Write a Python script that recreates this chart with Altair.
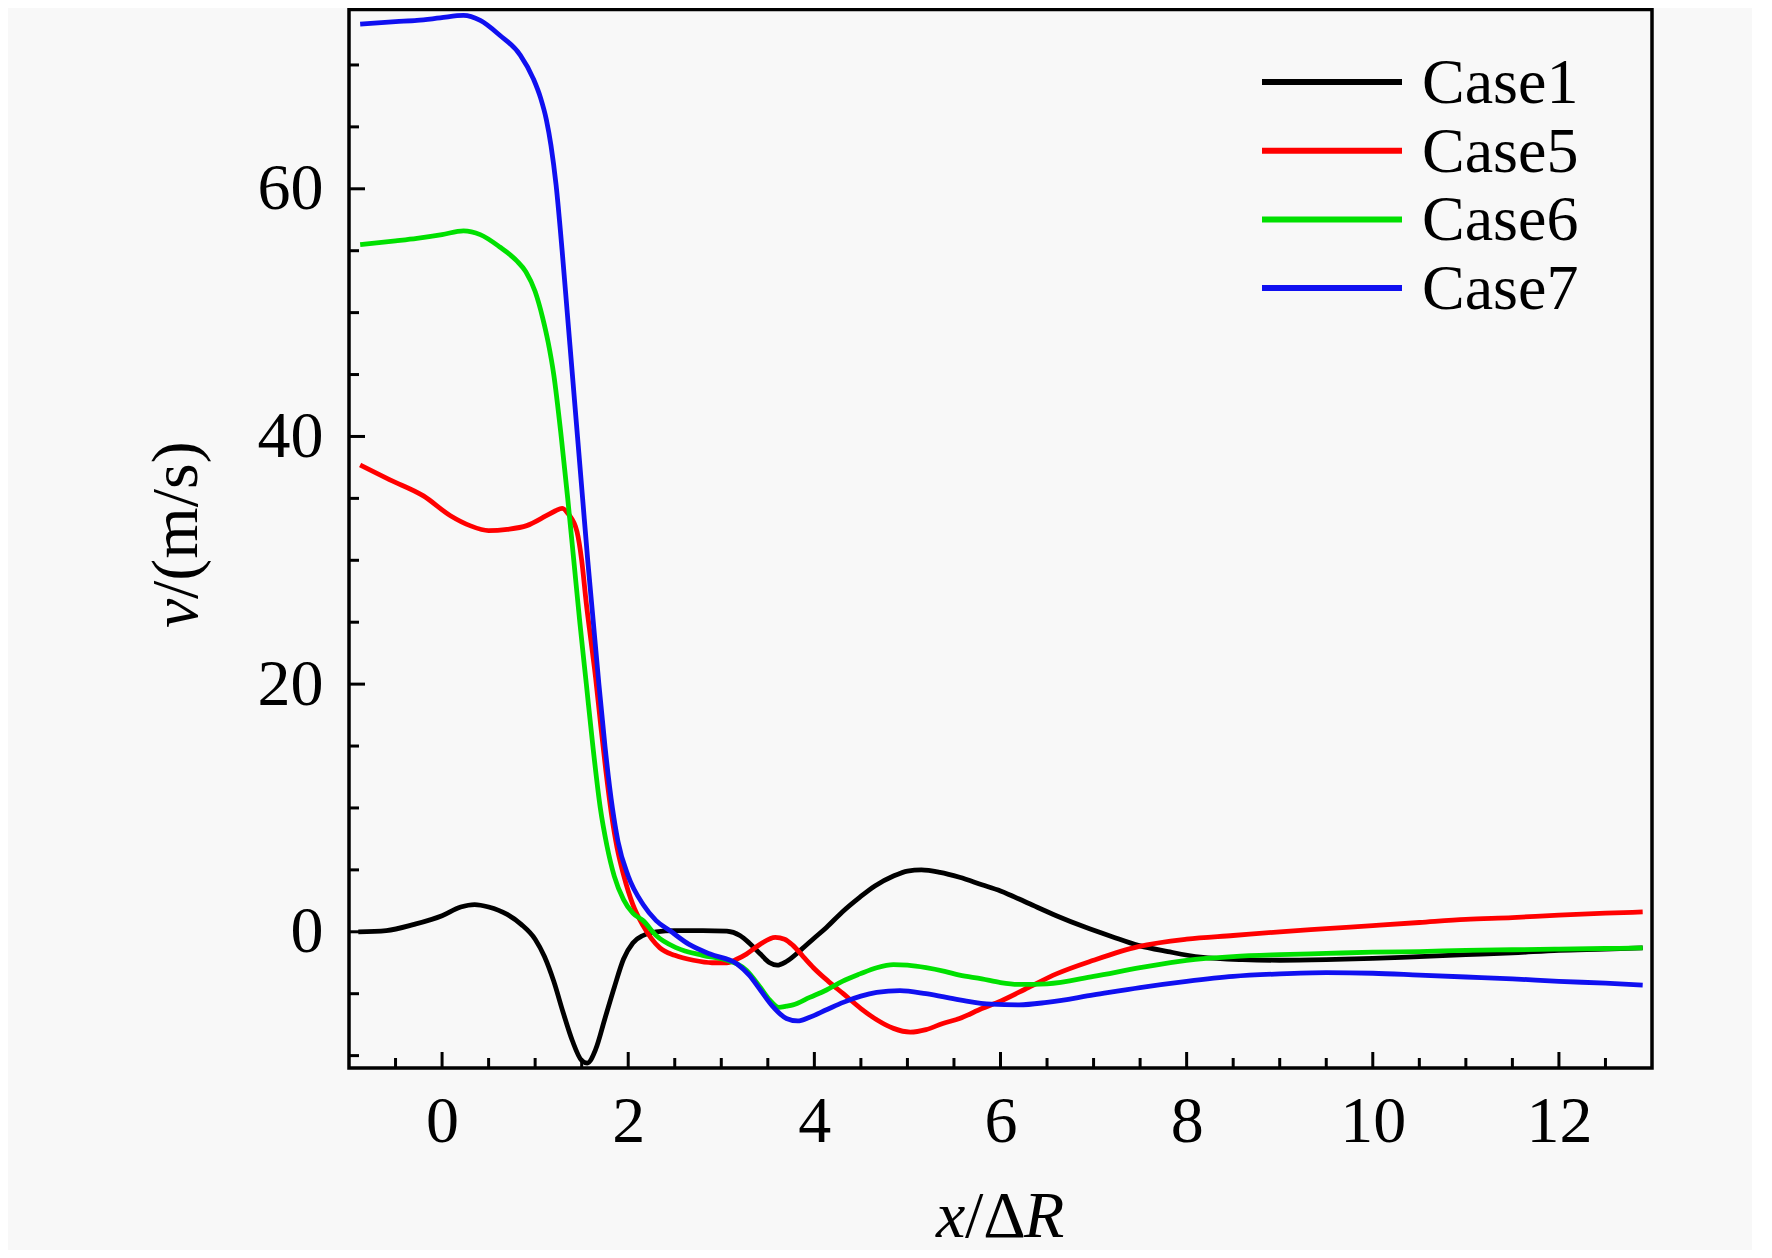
import altair as alt
import pandas as pd

cases = ["Case1", "Case5", "Case6", "Case7"]
colors = ["#000000", "#ff0000", "#00e000", "#1010f0"]

case1_x = [-0.9, -0.6, -0.3, 0.0, 0.2, 0.35, 0.5, 0.7, 0.85, 1.0, 1.1, 1.2, 1.3, 1.4, 1.5, 1.56,
           1.65, 1.75, 1.85, 1.95, 2.05, 2.16, 2.3, 2.5, 2.8, 3.06, 3.2, 3.3, 3.42, 3.52, 3.6, 3.7,
           3.85, 4.0, 4.13, 4.3, 4.49, 4.65, 4.85, 5.0, 5.15, 5.35, 5.56, 5.8, 6.0, 6.3, 6.6, 6.9,
           7.2, 7.48, 7.8, 8.15, 8.6, 9.0, 9.5, 10.0, 10.5, 11.0, 11.5, 12.0, 12.5, 12.9]
case1_y = [0.0, 0.1, 0.6, 1.3, 2.0, 2.2, 2.0, 1.4, 0.6, -0.6, -2.0, -4.0, -6.5, -8.8, -10.4, -10.6,
           -9.5, -7.0, -4.5, -2.2, -0.9, -0.3, 0.0, 0.1, 0.1, 0.05, -0.3, -0.9, -1.8, -2.5, -2.7, -2.4,
           -1.5, -0.5, 0.35, 1.6, 2.8, 3.7, 4.5, 4.9, 5.0, 4.8, 4.4, 3.8, 3.3, 2.3, 1.3, 0.4,
           -0.4, -1.1, -1.6, -2.05, -2.25, -2.3, -2.25, -2.15, -2.0, -1.85, -1.7, -1.5, -1.4, -1.3]

case5_x = [-0.88, -0.56, -0.2, 0.09, 0.3, 0.5, 0.7, 0.91, 1.12, 1.22, 1.29, 1.36, 1.45, 1.5,
           1.55, 1.6, 1.65, 1.7, 1.76, 1.82, 1.88, 1.95, 2.05, 2.16, 2.34, 2.5, 2.7, 2.9, 3.06, 3.17,
           3.27, 3.42, 3.58, 3.68, 3.77, 3.88, 3.99, 4.15, 4.31, 4.5, 4.67, 4.85, 5.03, 5.2, 5.38,
           5.56, 5.8, 6.0, 6.3, 6.6, 7.0, 7.48, 8.0, 8.5, 9.0, 9.5, 10.0, 10.5, 11.0, 11.5, 12.0,
           12.5, 12.9]
case5_y = [37.7, 36.5, 35.2, 33.6, 32.8, 32.4, 32.5, 32.8, 33.6, 34.0, 34.2, 33.7, 32.3, 30.0,
           26.5, 23.5, 20.5, 17.0, 13.0, 9.5, 6.8, 4.6, 2.2, 0.5, -1.3, -1.9, -2.3, -2.5, -2.5, -2.2,
           -1.8, -1.0, -0.45, -0.6, -1.1, -2.0, -2.9, -4.0, -5.0, -6.2, -7.1, -7.8, -8.1, -7.9, -7.4,
           -7.0, -6.2, -5.6, -4.5, -3.4, -2.3, -1.2, -0.6, -0.3, 0.0, 0.25, 0.5, 0.75, 1.0, 1.15, 1.35,
           1.5, 1.6]

case6_x = [-0.88, -0.5, -0.27, 0.0, 0.23, 0.41, 0.62, 0.8, 0.9, 1.0, 1.08, 1.14, 1.2, 1.28, 1.35,
           1.415, 1.48, 1.55, 1.62, 1.7, 1.77, 1.85, 1.95, 2.05, 2.16, 2.3, 2.52, 2.8, 3.06, 3.17,
           3.27, 3.42, 3.52, 3.62, 3.7, 3.77, 3.95, 4.13, 4.3, 4.49, 4.67, 4.85, 5.0, 5.2, 5.4, 5.56,
           5.8, 6.0, 6.2, 6.5, 7.0, 7.5, 8.0, 8.5, 9.0, 9.5, 10.0, 10.5, 11.0, 11.5, 12.0, 12.5, 12.9]
case6_y = [55.5, 55.8, 56.0, 56.3, 56.6, 56.3, 55.3, 54.2, 53.3, 51.7, 49.6, 47.6, 45.0, 40.0, 35.0,
           30.0, 25.0, 20.0, 15.0, 10.0, 7.0, 4.5, 2.6, 1.5, 0.9, -0.3, -1.3, -1.9, -2.3, -2.6,
           -3.1, -4.5, -5.5, -6.1, -6.0, -5.9, -5.3, -4.7, -4.0, -3.4, -2.9, -2.65, -2.7, -2.9, -3.2, -3.5,
           -3.8, -4.1, -4.25, -4.2, -3.6, -2.9, -2.3, -2.0, -1.85, -1.75, -1.65, -1.6, -1.5, -1.45, -1.4,
           -1.35, -1.3]

case7_x = [-0.88, -0.5, -0.27, -0.02, 0.23, 0.41, 0.62, 0.84, 0.98, 1.06, 1.12, 1.17, 1.225, 1.29,
           1.345, 1.4, 1.455, 1.51, 1.565, 1.625, 1.685, 1.75, 1.83, 1.89, 2.0, 2.16, 2.3, 2.45, 2.65,
           2.88, 3.17, 3.3, 3.42, 3.55, 3.7, 3.82, 3.95, 4.13, 4.31, 4.5, 4.67, 4.92, 5.2, 5.56, 5.9,
           6.2, 6.5, 7.0, 7.5, 8.0, 8.5, 9.0, 9.5, 10.0, 10.5, 11.0, 11.5, 12.0, 12.5, 12.9]
case7_y = [73.3, 73.5, 73.6, 73.8, 74.0, 73.6, 72.4, 70.8, 68.9, 67.3, 65.6, 63.5, 60.3, 55.0,
           50.0, 45.0, 40.0, 35.0, 30.0, 25.0, 20.0, 15.0, 10.0, 7.3, 4.5, 2.2, 0.9, 0.08, -1.0,
           -1.8, -2.6, -3.5, -4.7, -6.0, -7.0, -7.2, -6.9, -6.3, -5.7, -5.2, -4.9, -4.75, -5.0, -5.5, -5.85,
           -5.9, -5.7, -5.1, -4.5, -4.0, -3.6, -3.4, -3.3, -3.35, -3.5, -3.65, -3.8, -4.0, -4.15, -4.3]

x_major = [0, 2, 4, 6, 8, 10, 12]
x_minor = [-0.5, 0.5, 1, 1.5, 2.5, 3, 3.5, 4.5, 5, 5.5, 6.5, 7, 7.5, 8.5, 9, 9.5,
           10.5, 11, 11.5, 12.5]
y_major = [0, 20, 40, 60]
y_minor = [-10, -5, 5, 10, 15, 25, 30, 35, 45, 50, 55, 65, 70]

W, H = 1303, 1060
FONT = "Liberation Serif"
FS = 66

rows = []
for name, xs, ys in zip(cases, [case1_x, case5_x, case6_x, case7_x],
                        [case1_y, case5_y, case6_y, case7_y]):
    for xv, yv in zip(xs, ys):
        rows.append({"case": name, "x": xv, "v": yv})
df = pd.DataFrame(rows)

xscale = alt.Scale(domain=[-1, 13], nice=False, zero=False)
yscale = alt.Scale(domain=[-11, 74.6], nice=False, zero=False)
xaxis = alt.Axis(values=x_major, ticks=False, domain=False, grid=False,
                 labelFont=FONT, labelFontSize=FS, labelPadding=21,
                 labelColor="black", labelFlush=False, title=None)
yaxis = alt.Axis(values=y_major, ticks=False, domain=False, grid=False,
                 labelFont=FONT, labelFontSize=FS, labelPadding=26,
                 labelColor="black", labelFlush=False, title=None)

lines = alt.Chart(df).mark_line(strokeWidth=4.8, interpolate="monotone").encode(
    x=alt.X("x:Q", scale=xscale, axis=xaxis),
    y=alt.Y("v:Q", scale=yscale, axis=yaxis),
    color=alt.Color("case:N", scale=alt.Scale(domain=cases, range=colors), legend=None),
    detail="case:N",
)


def xticks(vals, length):
    return alt.Chart(pd.DataFrame({"t": vals})).mark_rule(color="black", strokeWidth=3).encode(
        x=alt.X("t:Q", scale=xscale, axis=xaxis),
        y=alt.value(H), y2=alt.value(H - length))


def yticks(vals, length):
    return alt.Chart(pd.DataFrame({"t": vals})).mark_rule(color="black", strokeWidth=3).encode(
        y=alt.Y("t:Q", scale=yscale, axis=yaxis),
        x=alt.value(0), x2=alt.value(length))


def label(text, x, y, italic=False, angle=0, size=FS):
    return alt.Chart(pd.DataFrame({"s": [text]})).mark_text(
        font=FONT, fontSize=size, fontStyle="italic" if italic else "normal",
        align="left", baseline="alphabetic", angle=angle, color="black"
    ).encode(x=alt.value(x), y=alt.value(y), text="s:N")


layers = [lines, xticks(x_major, 16), xticks(x_minor, 10), yticks(y_major, 16), yticks(y_minor, 10)]

# top border (view stroke is half clipped at the top edge)
layers.append(alt.Chart(pd.DataFrame({"s": ["top"]})).mark_rule(color="black", strokeWidth=3.5).encode(
    x=alt.value(0), x2=alt.value(W), y=alt.value(1.5)))

# axis titles
layers += [label("x", 587, 1229, italic=True), label("/\u0394", 616, 1229),
           label("R", 675, 1229, italic=True)]
layers += [label("v", -152, 620, italic=True, angle=270), label("/(m/s)", -152, 591, angle=270)]

# legend
for i, (name, col) in enumerate(zip(cases, colors)):
    ly = 74 + 68.7 * i
    layers.append(alt.Chart(pd.DataFrame({"case": [name]})).mark_rule(color=col, strokeWidth=6).encode(
        x=alt.value(913), x2=alt.value(1053), y=alt.value(ly)))
    layers.append(label(name, 1073, ly + 21, size=64))

chart = alt.layer(*layers).properties(
    width=W, height=H,
    autosize=alt.AutoSizeParams(type="none"),
    padding={"left": 341, "top": 0, "right": 100, "bottom": 182},
    background="#f8f8f8",
).configure_view(stroke="black", strokeWidth=3.5)

chart.save("out.html", embed_options={"renderer": "svg", "actions": False})
